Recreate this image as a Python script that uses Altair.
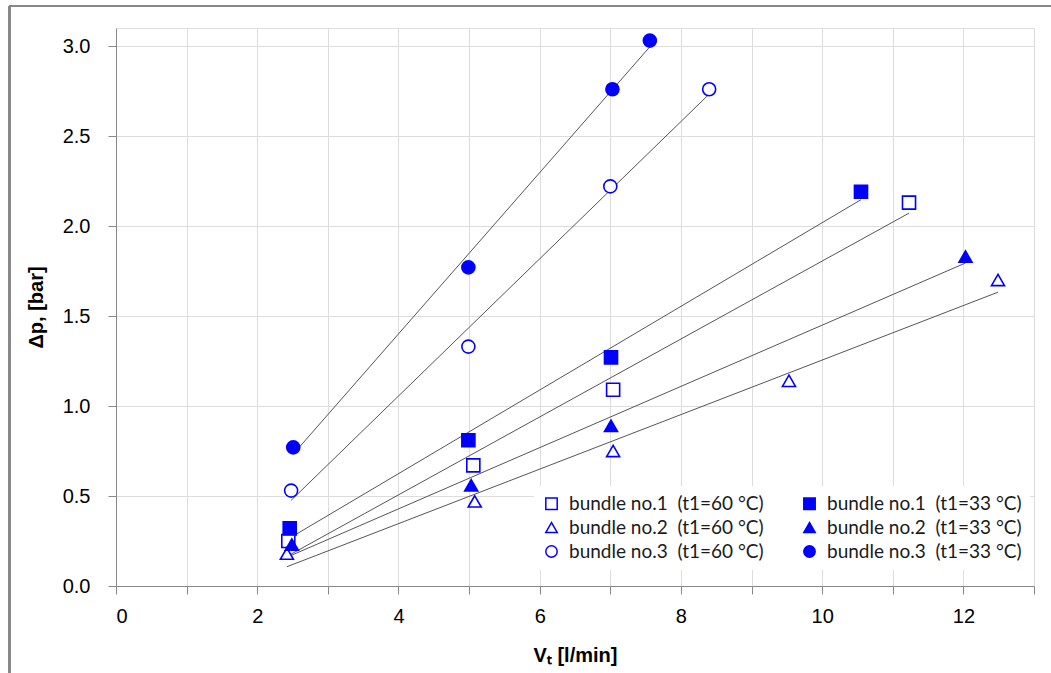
import altair as alt
import pandas as pd

# ---- data ----
series_names = [
    "bundle no.1\u00a0 (t1=60 °C)",
    "bundle no.2\u00a0 (t1=60 °C)",
    "bundle no.3\u00a0 (t1=60 °C)",
    "bundle no.1\u00a0 (t1=33 °C)",
    "bundle no.2\u00a0 (t1=33 °C)",
    "bundle no.3\u00a0 (t1=33 °C)",
]

b1_60_x = [2.44, 5.06, 7.04, 11.23]
b1_60_y = [0.25, 0.67, 1.09, 2.13]
b2_60_x = [2.42, 5.08, 7.04, 9.53, 12.49]
b2_60_y = [0.18, 0.47, 0.75, 1.14, 1.70]
b3_60_x = [2.48, 4.99, 7.00, 8.40]
b3_60_y = [0.53, 1.33, 2.22, 2.76]
b1_33_x = [2.46, 4.99, 7.01, 10.55]
b1_33_y = [0.32, 0.81, 1.27, 2.19]
b2_33_x = [2.49, 5.03, 7.01, 12.03]
b2_33_y = [0.23, 0.56, 0.89, 1.83]
b3_33_x = [2.51, 4.99, 7.03, 7.56]
b3_33_y = [0.77, 1.77, 2.76, 3.03]

xs = [b1_60_x, b2_60_x, b3_60_x, b1_33_x, b2_33_x, b3_33_x]
ys = [b1_60_y, b2_60_y, b3_60_y, b1_33_y, b2_33_y, b3_33_y]

x_ticks = list(range(0, 14))
y_ticks = [0.0, 0.5, 1.0, 1.5, 2.0, 2.5, 3.0]

shapes = ["square", "triangle-up", "circle", "square", "triangle-up", "circle"]
fills = ["white", "white", "white", "#0000ff", "#0000ff", "#0000ff"]
strokes = ["#0000ff"] * 6

rows = []
for name, xv, yv in zip(series_names, xs, ys):
    for a, b in zip(xv, yv):
        rows.append({"series": name, "V": a, "dp": b})
df = pd.DataFrame(rows)

FONT = "Lato"

x_enc = alt.X(
    "V:Q",
    scale=alt.Scale(domain=[0, 13], nice=False),
    axis=alt.Axis(
        values=x_ticks,
        format="d",
        labelExpr="datum.value % 2 == 0 ? datum.label : ''",
        title="V\u209c [l/min]",
        titleFontWeight="bold",
        titleFontSize=20,
        titlePadding=19,
        labelFontSize=20,
        labelPadding=12,
        tickSize=8,
        grid=True,
    ),
)
y_enc = alt.Y(
    "dp:Q",
    scale=alt.Scale(domain=[0, 3.1], nice=False),
    axis=alt.Axis(
        values=y_ticks,
        format=".1f",
        title="\u0394p, [bar]",
        titleFontWeight="bold",
        titleFontSize=20,
        titlePadding=16,
        labelFontSize=20,
        labelPadding=18,
        tickSize=8,
        grid=True,
    ),
)

dom = series_names

lines = (
    alt.Chart(df)
    .transform_regression("V", "dp", groupby=["series"])
    .mark_line(color="#555555", strokeWidth=1)
    .encode(x=x_enc, y=y_enc, detail="series:N")
)

points = (
    alt.Chart(df)
    .mark_point(size=170, strokeWidth=1.6, opacity=1, filled=False)
    .encode(
        x=alt.X("V:Q"),
        y=alt.Y("dp:Q"),
        shape=alt.Shape(
            "series:N",
            scale=alt.Scale(domain=dom, range=shapes),
            legend=alt.Legend(
                title=None,
                orient="none",
                legendX=418,
                legendY=458,
                columns=2,
                columnPadding=36,
                rowPadding=4,
                padding=8,
                fillColor="white",
                labelFont=FONT,
                labelFontSize=19,
                labelColor="#1a1a1a",
                labelLimit=400,
                labelOffset=8,
                symbolSize=130,
                symbolStrokeWidth=1.5,
            ),
        ),
        fill=alt.Fill("series:N", scale=alt.Scale(domain=dom, range=fills)),
        stroke=alt.Stroke("series:N", scale=alt.Scale(domain=dom, range=strokes)),
    )
)

frame_left = alt.Chart(df).mark_rule(color="#888888", strokeWidth=1.5, clip=False).encode(
    x=alt.value(-106.5), y=alt.value(-22), y2=alt.value(700)
)
frame_top = alt.Chart(df).mark_rule(color="#888888", strokeWidth=1.5, clip=False).encode(
    x=alt.value(-107), x2=alt.value(1000), y=alt.value(-22)
)

chart = (
    alt.layer(frame_left, frame_top, lines, points)
    .properties(
        width=918,
        height=558,
        autosize=alt.AutoSizeParams(type="none"),
        padding={"left": 116, "top": 28, "right": 17, "bottom": 87},
    )
    .configure_view(stroke=None)
    .configure_axis(
        labelFont=FONT,
        titleFont=FONT,
        labelColor="#1a1a1a",
        titleColor="#1a1a1a",
        gridColor="#d9d9d9",
        gridWidth=1,
        domainColor="#a6a6a6",
        tickColor="#a6a6a6",
        domainWidth=1,
    )
    .configure(background="white")
)

chart.save("out.html", embed_options={"renderer": "svg", "actions": False})
